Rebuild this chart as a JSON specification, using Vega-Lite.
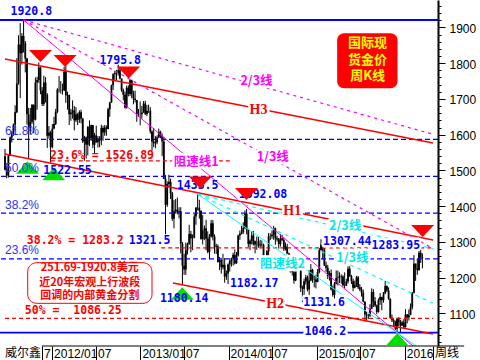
{
  "$schema": "https://vega.github.io/schema/vega-lite/v6.json",
  "width": 438,
  "height": 346,
  "padding": {"left": 0, "top": 0, "right": 42, "bottom": 14},
  "autosize": {"type": "none"},
  "background": "#ffffff",
  "config": {"view": {"stroke": null}, "axis": {"grid": false}},
  "resolve": {"axis": {"y": "independent"}},
  "datasets": {
    "weekly": [
      {"week":"2011-06-20","open":1540,"high":1560,"low":1500,"close":1502},
      {"week":"2011-06-27","open":1502,"high":1510,"low":1478,"close":1486},
      {"week":"2011-07-04","open":1486,"high":1545,"low":1480,"close":1541},
      {"week":"2011-07-11","open":1541,"high":1595,"low":1540,"close":1592},
      {"week":"2011-07-18","open":1592,"high":1610,"low":1578,"close":1601},
      {"week":"2011-07-25","open":1601,"high":1631,"low":1597,"close":1628},
      {"week":"2011-08-01","open":1628,"high":1682,"low":1610,"close":1663},
      {"week":"2011-08-08","open":1663,"high":1814,"low":1660,"close":1743},
      {"week":"2011-08-15","open":1743,"high":1878,"low":1740,"close":1852},
      {"week":"2011-08-22","open":1852,"high":1912,"low":1702,"close":1828},
      {"week":"2011-08-29","open":1828,"high":1884,"low":1796,"close":1876},
      {"week":"2011-09-05","open":1876,"high":1920.8,"low":1830,"close":1856},
      {"week":"2011-09-12","open":1856,"high":1862,"low":1774,"close":1813},
      {"week":"2011-09-19","open":1813,"high":1815,"low":1628,"close":1657},
      {"week":"2011-09-26","open":1657,"high":1675,"low":1532,"close":1620},
      {"week":"2011-10-03","open":1620,"high":1675,"low":1600,"close":1636},
      {"week":"2011-10-10","open":1636,"high":1686,"low":1630,"close":1683},
      {"week":"2011-10-17","open":1683,"high":1685,"low":1604,"close":1642},
      {"week":"2011-10-24","open":1642,"high":1760,"low":1640,"close":1746},
      {"week":"2011-10-31","open":1746,"high":1762,"low":1670,"close":1753},
      {"week":"2011-11-07","open":1753,"high":1802,"low":1745,"close":1788},
      {"week":"2011-11-14","open":1788,"high":1790,"low":1713,"close":1724},
      {"week":"2011-11-21","open":1724,"high":1733,"low":1680,"close":1686},
      {"week":"2011-11-28","open":1686,"high":1765,"low":1680,"close":1746},
      {"week":"2011-12-05","open":1746,"high":1761,"low":1690,"close":1712},
      {"week":"2011-12-12","open":1712,"high":1716,"low":1563,"close":1597},
      {"week":"2011-12-19","open":1597,"high":1624,"low":1589,"close":1606},
      {"week":"2011-12-26","open":1606,"high":1611,"low":1522.55,"close":1565},
      {"week":"2012-01-02","open":1565,"high":1630,"low":1562,"close":1617},
      {"week":"2012-01-09","open":1617,"high":1650,"low":1615,"close":1630},
      {"week":"2012-01-16","open":1630,"high":1672,"low":1627,"close":1664},
      {"week":"2012-01-23","open":1664,"high":1730,"low":1660,"close":1726},
      {"week":"2012-01-30","open":1726,"high":1764,"low":1718,"close":1725},
      {"week":"2012-02-06","open":1725,"high":1750,"low":1715,"close":1725},
      {"week":"2012-02-13","open":1725,"high":1743,"low":1712,"close":1724},
      {"week":"2012-02-20","open":1724,"high":1790,"low":1722,"close":1776},
      {"week":"2012-02-27","open":1776,"high":1792,"low":1689,"close":1710},
      {"week":"2012-03-05","open":1710,"high":1720,"low":1670,"close":1711},
      {"week":"2012-03-12","open":1711,"high":1712,"low":1627,"close":1657},
      {"week":"2012-03-19","open":1657,"high":1672,"low":1639,"close":1662},
      {"week":"2012-03-26","open":1662,"high":1696,"low":1645,"close":1668},
      {"week":"2012-04-02","open":1668,"high":1680,"low":1612,"close":1640},
      {"week":"2012-04-09","open":1640,"high":1677,"low":1635,"close":1657},
      {"week":"2012-04-16","open":1657,"high":1661,"low":1627,"close":1642},
      {"week":"2012-04-23","open":1642,"high":1668,"low":1633,"close":1663},
      {"week":"2012-04-30","open":1663,"high":1670,"low":1632,"close":1645},
      {"week":"2012-05-07","open":1645,"high":1647,"low":1577,"close":1581},
      {"week":"2012-05-14","open":1581,"high":1597,"low":1527,"close":1592},
      {"week":"2012-05-21","open":1592,"high":1595,"low":1533,"close":1572},
      {"week":"2012-05-28","open":1572,"high":1624,"low":1542,"close":1622},
      {"week":"2012-06-04","open":1622,"high":1640,"low":1568,"close":1590},
      {"week":"2012-06-11","open":1590,"high":1628,"low":1583,"close":1627},
      {"week":"2012-06-18","open":1627,"high":1627,"low":1562,"close":1572},
      {"week":"2012-06-25","open":1572,"high":1605,"low":1547,"close":1598},
      {"week":"2012-07-02","open":1598,"high":1625,"low":1577,"close":1579},
      {"week":"2012-07-09","open":1579,"high":1596,"low":1564,"close":1589},
      {"week":"2012-07-16","open":1589,"high":1596,"low":1565,"close":1584},
      {"week":"2012-07-23","open":1584,"high":1628,"low":1571,"close":1619},
      {"week":"2012-07-30","open":1619,"high":1625,"low":1583,"close":1606},
      {"week":"2012-08-06","open":1606,"high":1627,"low":1597,"close":1620},
      {"week":"2012-08-13","open":1620,"high":1626,"low":1597,"close":1616},
      {"week":"2012-08-20","open":1616,"high":1675,"low":1615,"close":1671},
      {"week":"2012-08-27","open":1671,"high":1692,"low":1650,"close":1690},
      {"week":"2012-09-03","open":1690,"high":1740,"low":1689,"close":1738},
      {"week":"2012-09-10","open":1738,"high":1772,"low":1725,"close":1769},
      {"week":"2012-09-17","open":1769,"high":1779,"low":1752,"close":1773},
      {"week":"2012-09-24","open":1773,"high":1781,"low":1753,"close":1772},
      {"week":"2012-10-01","open":1772,"high":1795.8,"low":1765,"close":1780},
      {"week":"2012-10-08","open":1780,"high":1790,"low":1755,"close":1757},
      {"week":"2012-10-15","open":1757,"high":1757,"low":1720,"close":1724},
      {"week":"2012-10-22","open":1724,"high":1729,"low":1696,"close":1712},
      {"week":"2012-10-29","open":1712,"high":1720,"low":1673,"close":1676},
      {"week":"2012-11-05","open":1676,"high":1737,"low":1673,"close":1731},
      {"week":"2012-11-12","open":1731,"high":1738,"low":1707,"close":1714},
      {"week":"2012-11-19","open":1714,"high":1755,"low":1708,"close":1752},
      {"week":"2012-11-26","open":1752,"high":1754,"low":1702,"close":1713},
      {"week":"2012-12-03","open":1713,"high":1723,"low":1685,"close":1701},
      {"week":"2012-12-10","open":1701,"high":1723,"low":1690,"close":1697},
      {"week":"2012-12-17","open":1697,"high":1697,"low":1636,"close":1658},
      {"week":"2012-12-24","open":1658,"high":1672,"low":1650,"close":1657},
      {"week":"2012-12-31","open":1657,"high":1693,"low":1626,"close":1657},
      {"week":"2013-01-07","open":1657,"high":1680,"low":1645,"close":1662},
      {"week":"2013-01-14","open":1662,"high":1694,"low":1661,"close":1687},
      {"week":"2013-01-21","open":1687,"high":1695,"low":1655,"close":1658},
      {"week":"2013-01-28","open":1658,"high":1683,"low":1652,"close":1667},
      {"week":"2013-02-04","open":1667,"high":1684,"low":1661,"close":1667},
      {"week":"2013-02-11","open":1667,"high":1677,"low":1603,"close":1609},
      {"week":"2013-02-18","open":1609,"high":1612,"low":1555,"close":1581},
      {"week":"2013-02-25","open":1581,"high":1619,"low":1565,"close":1576},
      {"week":"2013-03-04","open":1576,"high":1596,"low":1562,"close":1579},
      {"week":"2013-03-11","open":1579,"high":1598,"low":1573,"close":1592},
      {"week":"2013-03-18","open":1592,"high":1617,"low":1590,"close":1608},
      {"week":"2013-03-25","open":1608,"high":1611,"low":1590,"close":1596},
      {"week":"2013-04-01","open":1596,"high":1603,"low":1540,"close":1581},
      {"week":"2013-04-08","open":1581,"high":1594,"low":1476,"close":1476},
      {"week":"2013-04-15","open":1476,"high":1487,"low":1321.5,"close":1404},
      {"week":"2013-04-22","open":1404,"high":1469,"low":1398,"close":1462},
      {"week":"2013-04-29","open":1462,"high":1488,"low":1453,"close":1468},
      {"week":"2013-05-06","open":1468,"high":1477,"low":1420,"close":1436},
      {"week":"2013-05-13","open":1436,"high":1440,"low":1359,"close":1365},
      {"week":"2013-05-20","open":1365,"high":1417,"low":1338,"close":1386},
      {"week":"2013-05-27","open":1386,"high":1420,"low":1379,"close":1390},
      {"week":"2013-06-03","open":1390,"high":1424,"low":1377,"close":1382},
      {"week":"2013-06-10","open":1382,"high":1397,"low":1366,"close":1386},
      {"week":"2013-06-17","open":1386,"high":1397,"low":1268,"close":1296},
      {"week":"2013-06-24","open":1296,"high":1300,"low":1180.14,"close":1234},
      {"week":"2013-07-01","open":1234,"high":1267,"low":1208,"close":1223},
      {"week":"2013-07-08","open":1223,"high":1298,"low":1208,"close":1277},
      {"week":"2013-07-15","open":1277,"high":1298,"low":1265,"close":1295},
      {"week":"2013-07-22","open":1295,"high":1348,"low":1292,"close":1322},
      {"week":"2013-07-29","open":1322,"high":1331,"low":1271,"close":1310},
      {"week":"2013-08-05","open":1310,"high":1321,"low":1277,"close":1312},
      {"week":"2013-08-12","open":1312,"high":1378,"low":1310,"close":1371},
      {"week":"2013-08-19","open":1371,"high":1397,"low":1348,"close":1396},
      {"week":"2013-08-26","open":1396,"high":1433.5,"low":1388,"close":1396},
      {"week":"2013-09-02","open":1396,"high":1418,"low":1365,"close":1387},
      {"week":"2013-09-09","open":1387,"high":1388,"low":1306,"close":1308},
      {"week":"2013-09-16","open":1308,"high":1375,"low":1293,"close":1332},
      {"week":"2013-09-23","open":1332,"high":1346,"low":1305,"close":1338},
      {"week":"2013-09-30","open":1338,"high":1362,"low":1277,"close":1309},
      {"week":"2013-10-07","open":1309,"high":1330,"low":1268,"close":1272},
      {"week":"2013-10-14","open":1272,"high":1322,"low":1251,"close":1315},
      {"week":"2013-10-21","open":1315,"high":1362,"low":1312,"close":1352},
      {"week":"2013-10-28","open":1352,"high":1361,"low":1304,"close":1315},
      {"week":"2013-11-04","open":1315,"high":1321,"low":1267,"close":1286},
      {"week":"2013-11-11","open":1286,"high":1295,"low":1266,"close":1288},
      {"week":"2013-11-18","open":1288,"high":1293,"low":1242,"close":1244},
      {"week":"2013-11-25","open":1244,"high":1258,"low":1221,"close":1250},
      {"week":"2013-12-02","open":1250,"high":1251,"low":1211,"close":1229},
      {"week":"2013-12-09","open":1229,"high":1267,"low":1223,"close":1236},
      {"week":"2013-12-16","open":1236,"high":1255,"low":1186,"close":1203},
      {"week":"2013-12-23","open":1203,"high":1220,"low":1194,"close":1212},
      {"week":"2013-12-30","open":1212,"high":1240,"low":1182.17,"close":1237},
      {"week":"2014-01-06","open":1237,"high":1251,"low":1217,"close":1247},
      {"week":"2014-01-13","open":1247,"high":1256,"low":1231,"close":1254},
      {"week":"2014-01-20","open":1254,"high":1270,"low":1234,"close":1264},
      {"week":"2014-01-27","open":1264,"high":1279,"low":1237,"close":1240},
      {"week":"2014-02-03","open":1240,"high":1272,"low":1239,"close":1262},
      {"week":"2014-02-10","open":1262,"high":1320,"low":1259,"close":1318},
      {"week":"2014-02-17","open":1318,"high":1332,"low":1306,"close":1323},
      {"week":"2014-02-24","open":1323,"high":1345,"low":1321,"close":1327},
      {"week":"2014-03-03","open":1327,"high":1355,"low":1322,"close":1339},
      {"week":"2014-03-10","open":1339,"high":1388,"low":1336,"close":1379},
      {"week":"2014-03-17","open":1379,"high":1392.08,"low":1321,"close":1335},
      {"week":"2014-03-24","open":1335,"high":1337,"low":1286,"close":1294},
      {"week":"2014-03-31","open":1294,"high":1307,"low":1277,"close":1303},
      {"week":"2014-04-07","open":1303,"high":1331,"low":1293,"close":1318},
      {"week":"2014-04-14","open":1318,"high":1331,"low":1290,"close":1293},
      {"week":"2014-04-21","open":1293,"high":1304,"low":1268,"close":1302},
      {"week":"2014-04-28","open":1302,"high":1315,"low":1278,"close":1302},
      {"week":"2014-05-05","open":1302,"high":1315,"low":1284,"close":1290},
      {"week":"2014-05-12","open":1290,"high":1306,"low":1284,"close":1293},
      {"week":"2014-05-19","open":1293,"high":1304,"low":1286,"close":1292},
      {"week":"2014-05-26","open":1292,"high":1295,"low":1245,"close":1250},
      {"week":"2014-06-02","open":1250,"high":1255,"low":1240,"close":1252},
      {"week":"2014-06-09","open":1252,"high":1277,"low":1250,"close":1274},
      {"week":"2014-06-16","open":1274,"high":1325,"low":1258,"close":1316},
      {"week":"2014-06-23","open":1316,"high":1324,"low":1305,"close":1316},
      {"week":"2014-06-30","open":1316,"high":1332,"low":1309,"close":1320},
      {"week":"2014-07-07","open":1320,"high":1345,"low":1306,"close":1338},
      {"week":"2014-07-14","open":1338,"high":1340,"low":1292,"close":1310},
      {"week":"2014-07-21","open":1310,"high":1317,"low":1301,"close":1307},
      {"week":"2014-07-28","open":1307,"high":1311,"low":1281,"close":1294},
      {"week":"2014-08-04","open":1294,"high":1322,"low":1287,"close":1310},
      {"week":"2014-08-11","open":1310,"high":1320,"low":1302,"close":1306},
      {"week":"2014-08-18","open":1306,"high":1312,"low":1275,"close":1280},
      {"week":"2014-08-25","open":1280,"high":1298,"low":1276,"close":1287},
      {"week":"2014-09-01","open":1287,"high":1295,"low":1263,"close":1268},
      {"week":"2014-09-08","open":1268,"high":1270,"low":1227,"close":1231},
      {"week":"2014-09-15","open":1231,"high":1238,"low":1215,"close":1215},
      {"week":"2014-09-22","open":1215,"high":1237,"low":1206,"close":1215},
      {"week":"2014-09-29","open":1215,"high":1221,"low":1183,"close":1192},
      {"week":"2014-10-06","open":1192,"high":1231,"low":1190,"close":1222},
      {"week":"2014-10-13","open":1222,"high":1249,"low":1220,"close":1238},
      {"week":"2014-10-20","open":1238,"high":1255,"low":1225,"close":1231},
      {"week":"2014-10-27","open":1231,"high":1234,"low":1160,"close":1171},
      {"week":"2014-11-03","open":1171,"high":1178,"low":1131.6,"close":1169},
      {"week":"2014-11-10","open":1169,"high":1197,"low":1142,"close":1190},
      {"week":"2014-11-17","open":1190,"high":1208,"low":1181,"close":1201},
      {"week":"2014-11-24","open":1201,"high":1206,"low":1162,"close":1167},
      {"week":"2014-12-01","open":1167,"high":1221,"low":1142,"close":1192},
      {"week":"2014-12-08","open":1192,"high":1238,"low":1190,"close":1222},
      {"week":"2014-12-15","open":1222,"high":1225,"low":1186,"close":1196},
      {"week":"2014-12-22","open":1196,"high":1205,"low":1173,"close":1195},
      {"week":"2014-12-29","open":1195,"high":1208,"low":1170,"close":1188},
      {"week":"2015-01-05","open":1188,"high":1224,"low":1187,"close":1216},
      {"week":"2015-01-12","open":1216,"high":1283,"low":1212,"close":1277},
      {"week":"2015-01-19","open":1277,"high":1307.44,"low":1276,"close":1293},
      {"week":"2015-01-26","open":1293,"high":1294,"low":1251,"close":1279},
      {"week":"2015-02-02","open":1279,"high":1284,"low":1233,"close":1234},
      {"week":"2015-02-09","open":1234,"high":1245,"low":1216,"close":1228},
      {"week":"2015-02-16","open":1228,"high":1236,"low":1196,"close":1204},
      {"week":"2015-02-23","open":1204,"high":1219,"low":1192,"close":1213},
      {"week":"2015-03-02","open":1213,"high":1223,"low":1164,"close":1167},
      {"week":"2015-03-09","open":1167,"high":1178,"low":1147,"close":1152},
      {"week":"2015-03-16","open":1152,"high":1188,"low":1142,"close":1183},
      {"week":"2015-03-23","open":1183,"high":1220,"low":1181,"close":1199},
      {"week":"2015-03-30","open":1199,"high":1220,"low":1178,"close":1201},
      {"week":"2015-04-06","open":1201,"high":1215,"low":1185,"close":1204},
      {"week":"2015-04-13","open":1204,"high":1209,"low":1183,"close":1203},
      {"week":"2015-04-20","open":1203,"high":1207,"low":1175,"close":1179},
      {"week":"2015-04-27","open":1179,"high":1215,"low":1170,"close":1178},
      {"week":"2015-05-04","open":1178,"high":1197,"low":1177,"close":1189},
      {"week":"2015-05-11","open":1189,"high":1232,"low":1184,"close":1225},
      {"week":"2015-05-18","open":1225,"high":1232,"low":1202,"close":1205},
      {"week":"2015-05-25","open":1205,"high":1208,"low":1182,"close":1190},
      {"week":"2015-06-01","open":1190,"high":1197,"low":1162,"close":1172},
      {"week":"2015-06-08","open":1172,"high":1192,"low":1170,"close":1180},
      {"week":"2015-06-15","open":1180,"high":1205,"low":1174,"close":1201},
      {"week":"2015-06-22","open":1201,"high":1205,"low":1168,"close":1173},
      {"week":"2015-06-29","open":1173,"high":1182,"low":1162,"close":1167},
      {"week":"2015-07-06","open":1167,"high":1174,"low":1147,"close":1158},
      {"week":"2015-07-13","open":1158,"high":1167,"low":1131,"close":1133},
      {"week":"2015-07-20","open":1133,"high":1134,"low":1077,"close":1097},
      {"week":"2015-07-27","open":1097,"high":1104,"low":1080,"close":1095},
      {"week":"2015-08-03","open":1095,"high":1099,"low":1084,"close":1094},
      {"week":"2015-08-10","open":1094,"high":1126,"low":1090,"close":1113},
      {"week":"2015-08-17","open":1113,"high":1170,"low":1112,"close":1160},
      {"week":"2015-08-24","open":1160,"high":1168,"low":1118,"close":1134},
      {"week":"2015-08-31","open":1134,"high":1146,"low":1118,"close":1122},
      {"week":"2015-09-07","open":1122,"high":1125,"low":1098,"close":1104},
      {"week":"2015-09-14","open":1104,"high":1142,"low":1102,"close":1137},
      {"week":"2015-09-21","open":1137,"high":1157,"low":1124,"close":1146},
      {"week":"2015-09-28","open":1146,"high":1147,"low":1109,"close":1137},
      {"week":"2015-10-05","open":1137,"high":1160,"low":1130,"close":1156},
      {"week":"2015-10-12","open":1156,"high":1191,"low":1154,"close":1177},
      {"week":"2015-10-19","open":1177,"high":1178,"low":1160,"close":1164},
      {"week":"2015-10-26","open":1164,"high":1173,"low":1138,"close":1141},
      {"week":"2015-11-02","open":1141,"high":1142,"low":1085,"close":1088},
      {"week":"2015-11-09","open":1088,"high":1097,"low":1076,"close":1081},
      {"week":"2015-11-16","open":1081,"high":1085,"low":1062,"close":1077},
      {"week":"2015-11-23","open":1077,"high":1080,"low":1053,"close":1057},
      {"week":"2015-11-30","open":1057,"high":1088,"low":1046.2,"close":1086},
      {"week":"2015-12-07","open":1086,"high":1090,"low":1064,"close":1076},
      {"week":"2015-12-14","open":1076,"high":1082,"low":1047,"close":1066},
      {"week":"2015-12-21","open":1066,"high":1080,"low":1065,"close":1075},
      {"week":"2015-12-28","open":1075,"high":1084,"low":1058,"close":1061},
      {"week":"2016-01-04","open":1061,"high":1112,"low":1061,"close":1097},
      {"week":"2016-01-11","open":1097,"high":1098,"low":1072,"close":1089},
      {"week":"2016-01-18","open":1089,"high":1111,"low":1080,"close":1096},
      {"week":"2016-01-25","open":1096,"high":1128,"low":1095,"close":1117},
      {"week":"2016-02-01","open":1117,"high":1160,"low":1111,"close":1158},
      {"week":"2016-02-08","open":1158,"high":1263,"low":1156,"close":1239},
      {"week":"2016-02-15","open":1239,"high":1240,"low":1191,"close":1227},
      {"week":"2016-02-22","open":1227,"high":1253,"low":1208,"close":1221},
      {"week":"2016-02-29","open":1221,"high":1280,"low":1220,"close":1270},
      {"week":"2016-03-07","open":1270,"high":1283.95,"low":1241,"close":1258},
      {"week":"2016-03-14","open":1258,"high":1268,"low":1226,"close":1255}
    ],
    "extremes": [
      {"label": "top", "price": 1920.8},
      {"label": "bottom", "price": 1046.2}
    ],
    "fibLevels": [
      {"pct": "61.8%", "price": 1586.7},
      {"pct": "50.0%", "price": 1483.5},
      {"pct": "38.2%", "price": 1380.3},
      {"pct": "23.6%", "price": 1252.61}
    ],
    "goldenSplit": [
      {"pct": "23.6%", "price": 1526.89, "from": "2011-12-27", "to": "2014-01-14"},
      {"pct": "38.2%", "price": 1283.2, "from": "2013-03-28", "to": "2016-04-27"},
      {"pct": "50%", "price": 1086.25, "from": "2011-06-20", "to": "2016-04-27"}
    ],
    "trendLines": [
      {"line": "H3", "date": "2011-06-20", "price": 1811.7},
      {"line": "H3", "date": "2016-04-27", "price": 1576.7},
      {"line": "H1", "date": "2011-06-20", "price": 1546.0},
      {"line": "H1", "date": "2016-04-27", "price": 1305.4},
      {"line": "H2", "date": "2013-05-16", "price": 1185.1},
      {"line": "H2", "date": "2016-04-27", "price": 1042.5}
    ],
    "speedLines": [
      {"set": "1920.8", "line": "main", "date": "2011-09-05", "price": 1920.8},
      {"set": "1920.8", "line": "main", "date": "2016-04-27", "price": 962.0},
      {"set": "1920.8", "line": "1/3", "date": "2011-09-05", "price": 1920.8},
      {"set": "1920.8", "line": "1/3", "date": "2016-04-27", "price": 1281.6},
      {"set": "1920.8", "line": "2/3", "date": "2011-09-05", "price": 1920.8},
      {"set": "1920.8", "line": "2/3", "date": "2016-04-27", "price": 1601.2},
      {"set": "1433.5", "line": "main", "date": "2013-08-26", "price": 1433.5},
      {"set": "1433.5", "line": "main", "date": "2016-04-27", "price": 976.3},
      {"set": "1433.5", "line": "1/3", "date": "2013-08-26", "price": 1433.5},
      {"set": "1433.5", "line": "1/3", "date": "2016-04-27", "price": 1128.7},
      {"set": "1433.5", "line": "2/3", "date": "2013-08-26", "price": 1433.5},
      {"set": "1433.5", "line": "2/3", "date": "2016-04-27", "price": 1281.1}
    ],
    "infoBox": [
      {"from": "2011-09-22", "to": "2013-02-18", "low": 1128.3, "high": 1241.9}
    ],
    "infoText": [
      {"text": "251.69-1920.8美元", "date": "2012-06-05", "price": 1225.7},
      {"text": "近20年宏观上行波段", "date": "2012-06-05", "price": 1186.5},
      {"text": "回调的内部黄金分割", "date": "2012-06-05", "price": 1147.4}
    ],
    "titleBox": [
      {"from": "2015-03-27", "to": "2015-12-02", "low": 1729.7, "high": 1883.6}
    ],
    "titleText": [
      {"text": "国际现", "date": "2015-07-31", "price": 1855.1},
      {"text": "货金价", "date": "2015-07-31", "price": 1808.9},
      {"text": "周K线", "date": "2015-07-31", "price": 1762.8}
    ],
    "peaks": [
      {"date": "2011-11-14", "price": 1820.1},
      {"date": "2012-02-24", "price": 1806.1},
      {"date": "2012-11-13", "price": 1773.9},
      {"date": "2013-09-06", "price": 1466.3},
      {"date": "2014-03-16", "price": 1434.1},
      {"date": "2016-03-15", "price": 1330.6}
    ],
    "troughs": [
      {"date": "2011-09-21", "price": 1508.2},
      {"date": "2012-01-08", "price": 1490.0},
      {"date": "2013-06-23", "price": 1155.8},
      {"date": "2015-12-01", "price": 1027.1}
    ],
    "priceNotes": [
      {"text": "1920.8", "date": "2011-10-07", "price": 1941.8},
      {"text": "1795.8", "date": "2012-10-09", "price": 1806.1},
      {"text": "1522.55", "date": "2012-03-05", "price": 1498.4},
      {"text": "1433.5", "date": "2013-08-26", "price": 1456.4},
      {"text": "1321.5", "date": "2013-02-08", "price": 1302.6},
      {"text": "1180.14", "date": "2013-07-01", "price": 1140.4},
      {"text": "1182.17", "date": "2014-04-17", "price": 1182.3}
    ],
    "priceNotesOnLines": [
      {"text": "1392.08", "date": "2014-05-24", "price": 1431.3},
      {"text": "1131.6", "date": "2015-02-01", "price": 1129.2},
      {"text": "1307.44", "date": "2015-05-08", "price": 1299.8},
      {"text": "1283.95", "date": "2015-11-25", "price": 1288.6},
      {"text": "1046.2", "date": "2015-02-06", "price": 1048.1}
    ],
    "goldenNotes": [
      {"text": "23.6% = 1526.89", "date": "2012-07-26", "price": 1540.4},
      {"text": "38.2% = 1283.2", "date": "2012-04-06", "price": 1301.2},
      {"text": "50% = \u00a01086.25", "date": "2012-03-29", "price": 1106.0}
    ],
    "trendNotes": [
      {"text": "H3", "date": "2014-05-05", "price": 1669.1},
      {"text": "H1", "date": "2014-09-22", "price": 1385.7},
      {"text": "H2", "date": "2014-07-13", "price": 1125.0}
    ],
    "magentaNotes": [
      {"text": "阻速线1", "date": "2013-08-20", "price": 1523.6},
      {"text": "1/3线", "date": "2014-07-03", "price": 1537.6},
      {"text": "2/3线", "date": "2014-04-27", "price": 1750.2}
    ],
    "cyanNotes": [
      {"text": "2/3线", "date": "2015-04-29", "price": 1344.6},
      {"text": "1/3线", "date": "2015-05-29", "price": 1255.1},
      {"text": "阻速线2", "date": "2014-08-12", "price": 1238.3}
    ],
    "footer": [
      {"text": "威尔鑫", "date": "2011-06-20", "price": 988.0},
      {"text": "周线", "date": "2016-05-05", "price": 988.0}
    ],
    "baseline": [
      {"from": "2011-11-20", "to": "2016-09-03", "price": 1008.9}
    ]
  },
  "layer": [
    {
      "data": {"name": "weekly"},
      "mark": {"type": "rule", "color": "#000000", "strokeWidth": 1},
      "encoding": {
        "x": {
          "field": "week", "type": "temporal", "title": null,
          "scale": {"domain": [{"year": 2011, "month": 6, "date": 20, "utc": true}, {"year": 2016, "month": 4, "date": 27, "utc": true}]},
          "axis": {
            "orient": "bottom",
            "values": [
              {"year": 2011, "month": 11, "date": 20, "utc": true},
              {"year": 2012, "month": 1, "date": 1, "utc": true},
              {"year": 2012, "month": 7, "date": 1, "utc": true},
              {"year": 2013, "month": 1, "date": 1, "utc": true},
              {"year": 2013, "month": 7, "date": 1, "utc": true},
              {"year": 2014, "month": 1, "date": 1, "utc": true},
              {"year": 2014, "month": 7, "date": 1, "utc": true},
              {"year": 2015, "month": 1, "date": 1, "utc": true},
              {"year": 2015, "month": 7, "date": 1, "utc": true},
              {"year": 2016, "month": 1, "date": 1, "utc": true},
              {"year": 2016, "month": 4, "date": 27, "utc": true}
            ],
            "labelExpr": "utcmonth(datum.value) == 0 ? (utcyear(datum.value) == 2016 ? '2016' : utcyear(datum.value) + '/01') : (utcmonth(datum.value) == 6 ? '07' : (utcmonth(datum.value) == 10 ? '7' : ''))",
            "domain": false,
            "ticks": true,
            "labels": true,
            "tickSize": 14,
            "tickColor": "#000000",
            "tickWidth": 1,
            "labelAlign": "left",
            "labelBaseline": "top",
            "labelPadding": -12,
            "labelOffset": 1.5,
            "labelFont": "Liberation Sans",
            "labelFontSize": 12,
            "labelColor": "#000000",
            "labelFlush": false,
            "labelOverlap": false,
            "labelBound": false,
            "zindex": 1
          }
        },
        "y": {
          "field": "low", "type": "quantitative", "title": null,
          "scale": {"domain": [1008.9, 1976.7], "nice": false, "zero": false},
          "axis": {
            "orient": "right",
            "values": [1100, 1200, 1300, 1400, 1500, 1600, 1700, 1800, 1900],
            "format": "d",
            "tickSize": 7,
            "tickColor": "#000000",
            "domainColor": "#000000",
            "domainWidth": 2,
            "labelFont": "Liberation Sans",
            "labelFontSize": 12,
            "labelColor": "#000000",
            "labelPadding": 4,
            "labelOffset": 1,
            "labelFlush": false,
            "labelOverlap": false
          }
        },
        "y2": {"field": "high"}
      }
    },
    {
      "data": {"name": "weekly"},
      "mark": {"type": "bar", "color": "#000000", "size": 1.8},
      "encoding": {
        "x": {"field": "week", "type": "temporal", "title": null},
        "y": {"field": "open", "type": "quantitative", "axis": null},
        "y2": {"field": "close"}
      }
    },
    {
      "data": {"name": "extremes"},
      "mark": {"type": "rule", "color": "#0000ff", "strokeWidth": 1.8},
      "encoding": {
        "y": {"field": "price", "type": "quantitative", "axis": null}
      }
    },
    {
      "data": {"name": "fibLevels"},
      "mark": {"type": "rule", "color": "#0000ff", "strokeWidth": 1.2, "strokeDash": [5, 3]},
      "encoding": {
        "y": {
          "field": "price", "type": "quantitative", "title": null,
          "axis": {
            "orient": "right",
            "values": [1020, 1040, 1060, 1080, 1120, 1140, 1160, 1180, 1220, 1240, 1260, 1280, 1320, 1340, 1360, 1380, 1420, 1440, 1460, 1480, 1520, 1540, 1560, 1580, 1620, 1640, 1660, 1680, 1720, 1740, 1760, 1780, 1820, 1840, 1860, 1880, 1920, 1940, 1960],
            "tickSize": 3,
            "tickColor": "#000000",
            "labels": false,
            "domain": false
          }
        }
      }
    },
    {
      "data": {"name": "goldenSplit"},
      "mark": {"type": "rule", "color": "#ff0000", "strokeWidth": 1.2, "strokeDash": [4, 3]},
      "encoding": {
        "x": {"field": "from", "type": "temporal", "title": null},
        "x2": {"field": "to"},
        "y": {"field": "price", "type": "quantitative", "axis": null}
      }
    },
    {
      "data": {"name": "trendLines"},
      "mark": {"type": "line", "color": "#ff0000", "strokeWidth": 1.5, "clip": true},
      "encoding": {
        "x": {"field": "date", "type": "temporal", "title": null},
        "y": {"field": "price", "type": "quantitative", "axis": null},
        "detail": {"field": "line"}
      }
    },
    {
      "data": {"name": "speedLines"},
      "transform": [{"filter": "datum.set == '1920.8' && datum.line == 'main'"}],
      "mark": {"type": "line", "color": "#ff00ff", "strokeWidth": 1, "clip": true},
      "encoding": {
        "x": {"field": "date", "type": "temporal", "title": null},
        "y": {"field": "price", "type": "quantitative", "axis": null}
      }
    },
    {
      "data": {"name": "speedLines"},
      "transform": [{"filter": "datum.set == '1920.8' && datum.line != 'main'"}],
      "mark": {"type": "line", "color": "#ff00ff", "strokeWidth": 1.2, "strokeDash": [3, 4], "clip": true},
      "encoding": {
        "x": {"field": "date", "type": "temporal", "title": null},
        "y": {"field": "price", "type": "quantitative", "axis": null},
        "detail": {"field": "line"}
      }
    },
    {
      "data": {"name": "speedLines"},
      "transform": [{"filter": "datum.set == '1433.5' && datum.line == 'main'"}],
      "mark": {"type": "line", "color": "#00ffff", "strokeWidth": 1, "clip": true},
      "encoding": {
        "x": {"field": "date", "type": "temporal", "title": null},
        "y": {"field": "price", "type": "quantitative", "axis": null}
      }
    },
    {
      "data": {"name": "speedLines"},
      "transform": [{"filter": "datum.set == '1433.5' && datum.line != 'main'"}],
      "mark": {"type": "line", "color": "#00ffff", "strokeWidth": 1.2, "strokeDash": [4, 4], "clip": true},
      "encoding": {
        "x": {"field": "date", "type": "temporal", "title": null},
        "y": {"field": "price", "type": "quantitative", "axis": null},
        "detail": {"field": "line"}
      }
    },
    {
      "data": {"name": "baseline"},
      "mark": {"type": "rule", "color": "#000000", "strokeWidth": 1, "clip": false},
      "encoding": {
        "x": {"field": "from", "type": "temporal", "title": null},
        "x2": {"field": "to"},
        "y": {"field": "price", "type": "quantitative", "axis": null}
      }
    },
    {
      "data": {"name": "infoBox"},
      "mark": {"type": "rect", "fill": "#ffffff", "stroke": "#ff0000", "strokeWidth": 1, "cornerRadius": 9},
      "encoding": {
        "x": {"field": "from", "type": "temporal", "title": null},
        "x2": {"field": "to"},
        "y": {"field": "low", "type": "quantitative", "axis": null},
        "y2": {"field": "high"}
      }
    },
    {
      "data": {"name": "titleBox"},
      "mark": {"type": "rect", "fill": "#ff0000", "cornerRadius": 7},
      "encoding": {
        "x": {"field": "from", "type": "temporal", "title": null},
        "x2": {"field": "to"},
        "y": {"field": "low", "type": "quantitative", "axis": null},
        "y2": {"field": "high"}
      }
    },
    {
      "data": {"name": "troughs"},
      "mark": {"type": "point", "shape": "M0,-0.55L1,0.55L-1,0.55Z", "size": 529, "filled": true, "color": "#00e000", "opacity": 1, "strokeWidth": 0},
      "encoding": {
        "x": {"field": "date", "type": "temporal", "title": null},
        "y": {"field": "price", "type": "quantitative", "axis": null}
      }
    },
    {
      "data": {"name": "fibLevels"},
      "mark": {"type": "text", "align": "left", "baseline": "middle", "dy": -8.5, "font": "Liberation Sans", "fontSize": 12, "color": "#2f2fff"},
      "encoding": {
        "x": {"datum": {"year": 2011, "month": 6, "date": 20, "utc": true}, "type": "temporal", "title": null},
        "y": {"field": "price", "type": "quantitative", "axis": null},
        "text": {"field": "pct"}
      }
    },
    {
      "data": {"name": "priceNotes"},
      "mark": {"type": "text", "align": "center", "baseline": "middle", "font": "DejaVu Sans Mono", "fontWeight": "bold", "fontSize": 11.5, "color": "#0000ff"},
      "encoding": {
        "x": {"field": "date", "type": "temporal", "title": null},
        "y": {"field": "price", "type": "quantitative", "axis": null},
        "text": {"field": "text"}
      }
    },
    {
      "data": {"name": "priceNotesOnLines"},
      "mark": {"type": "text", "align": "center", "baseline": "middle", "font": "DejaVu Sans Mono", "fontWeight": "bold", "fontSize": 11.5, "stroke": "#ffffff", "strokeWidth": 5, "strokeJoin": "round", "color": "#ffffff"},
      "encoding": {
        "x": {"field": "date", "type": "temporal", "title": null},
        "y": {"field": "price", "type": "quantitative", "axis": null},
        "text": {"field": "text"}
      }
    },
    {
      "data": {"name": "priceNotesOnLines"},
      "mark": {"type": "text", "align": "center", "baseline": "middle", "font": "DejaVu Sans Mono", "fontWeight": "bold", "fontSize": 11.5, "color": "#0000ff"},
      "encoding": {
        "x": {"field": "date", "type": "temporal", "title": null},
        "y": {"field": "price", "type": "quantitative", "axis": null},
        "text": {"field": "text"}
      }
    },
    {
      "data": {"name": "goldenNotes"},
      "mark": {"type": "text", "align": "center", "baseline": "middle", "font": "DejaVu Sans Mono", "fontWeight": "bold", "fontSize": 11.5, "color": "#ff0000"},
      "encoding": {
        "x": {"field": "date", "type": "temporal", "title": null},
        "y": {"field": "price", "type": "quantitative", "axis": null},
        "text": {"field": "text"}
      }
    },
    {
      "data": {"name": "trendNotes"},
      "mark": {"type": "text", "align": "center", "baseline": "middle", "font": "Liberation Serif", "fontWeight": "bold", "fontSize": 14, "stroke": "#ffffff", "strokeWidth": 5, "strokeJoin": "round", "color": "#ffffff"},
      "encoding": {
        "x": {"field": "date", "type": "temporal", "title": null},
        "y": {"field": "price", "type": "quantitative", "axis": null},
        "text": {"field": "text"}
      }
    },
    {
      "data": {"name": "trendNotes"},
      "mark": {"type": "text", "align": "center", "baseline": "middle", "font": "Liberation Serif", "fontWeight": "bold", "fontSize": 14, "color": "#ff0000"},
      "encoding": {
        "x": {"field": "date", "type": "temporal", "title": null},
        "y": {"field": "price", "type": "quantitative", "axis": null},
        "text": {"field": "text"}
      }
    },
    {
      "data": {"name": "magentaNotes"},
      "mark": {"type": "text", "align": "center", "baseline": "middle", "font": "Noto Sans CJK SC", "fontWeight": "bold", "fontSize": 12.5, "stroke": "#ffffff", "strokeWidth": 5, "strokeJoin": "round", "color": "#ffffff"},
      "encoding": {
        "x": {"field": "date", "type": "temporal", "title": null},
        "y": {"field": "price", "type": "quantitative", "axis": null},
        "text": {"field": "text"}
      }
    },
    {
      "data": {"name": "magentaNotes"},
      "mark": {"type": "text", "align": "center", "baseline": "middle", "font": "Noto Sans CJK SC", "fontWeight": "bold", "fontSize": 12.5, "color": "#ff00ff"},
      "encoding": {
        "x": {"field": "date", "type": "temporal", "title": null},
        "y": {"field": "price", "type": "quantitative", "axis": null},
        "text": {"field": "text"}
      }
    },
    {
      "data": {"name": "cyanNotes"},
      "mark": {"type": "text", "align": "center", "baseline": "middle", "font": "Noto Sans CJK SC", "fontWeight": "bold", "fontSize": 12.5, "stroke": "#ffffff", "strokeWidth": 5, "strokeJoin": "round", "color": "#ffffff"},
      "encoding": {
        "x": {"field": "date", "type": "temporal", "title": null},
        "y": {"field": "price", "type": "quantitative", "axis": null},
        "text": {"field": "text"}
      }
    },
    {
      "data": {"name": "cyanNotes"},
      "mark": {"type": "text", "align": "center", "baseline": "middle", "font": "Noto Sans CJK SC", "fontWeight": "bold", "fontSize": 12.5, "color": "#00e8e8"},
      "encoding": {
        "x": {"field": "date", "type": "temporal", "title": null},
        "y": {"field": "price", "type": "quantitative", "axis": null},
        "text": {"field": "text"}
      }
    },
    {
      "data": {"name": "infoText"},
      "mark": {"type": "text", "align": "center", "baseline": "middle", "font": "Noto Sans CJK SC", "fontWeight": "bold", "fontSize": 11, "color": "#ff0000"},
      "encoding": {
        "x": {"field": "date", "type": "temporal", "title": null},
        "y": {"field": "price", "type": "quantitative", "axis": null},
        "text": {"field": "text"}
      }
    },
    {
      "data": {"name": "titleText"},
      "mark": {"type": "text", "align": "center", "baseline": "middle", "font": "Noto Sans CJK SC", "fontWeight": "bold", "fontSize": 13, "color": "#ffff00"},
      "encoding": {
        "x": {"field": "date", "type": "temporal", "title": null},
        "y": {"field": "price", "type": "quantitative", "axis": null},
        "text": {"field": "text"}
      }
    },
    {
      "data": {"name": "peaks"},
      "mark": {"type": "point", "shape": "M-1,-0.52L1,-0.52L0,0.52Z", "size": 529, "filled": true, "color": "#ff0000", "opacity": 1, "strokeWidth": 0},
      "encoding": {
        "x": {"field": "date", "type": "temporal", "title": null},
        "y": {"field": "price", "type": "quantitative", "axis": null}
      }
    },
    {
      "data": {"name": "footer"},
      "mark": {"type": "text", "align": "left", "baseline": "middle", "font": "Noto Sans CJK SC", "fontSize": 12, "color": "#000000"},
      "encoding": {
        "x": {"field": "date", "type": "temporal", "title": null},
        "y": {"field": "price", "type": "quantitative", "axis": null},
        "text": {"field": "text"}
      }
    }
  ]
}
